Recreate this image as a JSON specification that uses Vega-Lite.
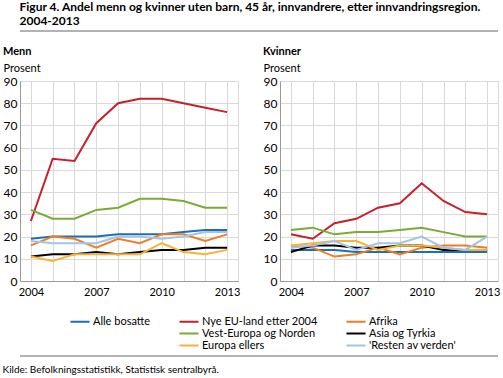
{
  "$schema": "https://vega.github.io/schema/vega-lite/v6.json",
  "padding": {"left": 2, "top": 1, "right": 2, "bottom": 0},
  "background": "white",
  "config": {
    "font": "Lato",
    "view": {"stroke": "#d9d9d9"},
    "title": {"font": "Lato", "color": "#000"}
  },
  "title": {"text": "Kilde: Befolkningsstatistikk, Statistisk sentralbyrå.", "orient": "bottom", "anchor": "start", "fontSize": 10, "fontWeight": "normal", "offset": 5},
  "datasets": {"d": [
    {"k":"Menn","r":"Alle bosatte","a":2004,"v":19},{"k":"Menn","r":"Alle bosatte","a":2005,"v":20},{"k":"Menn","r":"Alle bosatte","a":2006,"v":20},{"k":"Menn","r":"Alle bosatte","a":2007,"v":20},{"k":"Menn","r":"Alle bosatte","a":2008,"v":21},{"k":"Menn","r":"Alle bosatte","a":2009,"v":21},{"k":"Menn","r":"Alle bosatte","a":2010,"v":21},{"k":"Menn","r":"Alle bosatte","a":2011,"v":22},{"k":"Menn","r":"Alle bosatte","a":2012,"v":23},{"k":"Menn","r":"Alle bosatte","a":2013,"v":23},
    {"k":"Menn","r":"Nye EU-land etter 2004","a":2004,"v":27},{"k":"Menn","r":"Nye EU-land etter 2004","a":2005,"v":55},{"k":"Menn","r":"Nye EU-land etter 2004","a":2006,"v":54},{"k":"Menn","r":"Nye EU-land etter 2004","a":2007,"v":71},{"k":"Menn","r":"Nye EU-land etter 2004","a":2008,"v":80},{"k":"Menn","r":"Nye EU-land etter 2004","a":2009,"v":82},{"k":"Menn","r":"Nye EU-land etter 2004","a":2010,"v":82},{"k":"Menn","r":"Nye EU-land etter 2004","a":2011,"v":80},{"k":"Menn","r":"Nye EU-land etter 2004","a":2012,"v":78},{"k":"Menn","r":"Nye EU-land etter 2004","a":2013,"v":76},
    {"k":"Menn","r":"Afrika","a":2004,"v":16},{"k":"Menn","r":"Afrika","a":2005,"v":20},{"k":"Menn","r":"Afrika","a":2006,"v":19},{"k":"Menn","r":"Afrika","a":2007,"v":15},{"k":"Menn","r":"Afrika","a":2008,"v":19},{"k":"Menn","r":"Afrika","a":2009,"v":17},{"k":"Menn","r":"Afrika","a":2010,"v":21},{"k":"Menn","r":"Afrika","a":2011,"v":21},{"k":"Menn","r":"Afrika","a":2012,"v":18},{"k":"Menn","r":"Afrika","a":2013,"v":21},
    {"k":"Menn","r":"Vest-Europa og Norden","a":2004,"v":32},{"k":"Menn","r":"Vest-Europa og Norden","a":2005,"v":28},{"k":"Menn","r":"Vest-Europa og Norden","a":2006,"v":28},{"k":"Menn","r":"Vest-Europa og Norden","a":2007,"v":32},{"k":"Menn","r":"Vest-Europa og Norden","a":2008,"v":33},{"k":"Menn","r":"Vest-Europa og Norden","a":2009,"v":37},{"k":"Menn","r":"Vest-Europa og Norden","a":2010,"v":37},{"k":"Menn","r":"Vest-Europa og Norden","a":2011,"v":36},{"k":"Menn","r":"Vest-Europa og Norden","a":2012,"v":33},{"k":"Menn","r":"Vest-Europa og Norden","a":2013,"v":33},
    {"k":"Menn","r":"Asia og Tyrkia","a":2004,"v":11},{"k":"Menn","r":"Asia og Tyrkia","a":2005,"v":12},{"k":"Menn","r":"Asia og Tyrkia","a":2006,"v":12},{"k":"Menn","r":"Asia og Tyrkia","a":2007,"v":13},{"k":"Menn","r":"Asia og Tyrkia","a":2008,"v":12},{"k":"Menn","r":"Asia og Tyrkia","a":2009,"v":13},{"k":"Menn","r":"Asia og Tyrkia","a":2010,"v":14},{"k":"Menn","r":"Asia og Tyrkia","a":2011,"v":14},{"k":"Menn","r":"Asia og Tyrkia","a":2012,"v":15},{"k":"Menn","r":"Asia og Tyrkia","a":2013,"v":15},
    {"k":"Menn","r":"Europa ellers","a":2004,"v":11},{"k":"Menn","r":"Europa ellers","a":2005,"v":9},{"k":"Menn","r":"Europa ellers","a":2006,"v":12},{"k":"Menn","r":"Europa ellers","a":2007,"v":12},{"k":"Menn","r":"Europa ellers","a":2008,"v":12},{"k":"Menn","r":"Europa ellers","a":2009,"v":12},{"k":"Menn","r":"Europa ellers","a":2010,"v":17},{"k":"Menn","r":"Europa ellers","a":2011,"v":13},{"k":"Menn","r":"Europa ellers","a":2012,"v":12},{"k":"Menn","r":"Europa ellers","a":2013,"v":14},
    {"k":"Menn","r":"'Resten av verden'","a":2004,"v":18},{"k":"Menn","r":"'Resten av verden'","a":2005,"v":17},{"k":"Menn","r":"'Resten av verden'","a":2006,"v":17},{"k":"Menn","r":"'Resten av verden'","a":2007,"v":17},{"k":"Menn","r":"'Resten av verden'","a":2008,"v":20},{"k":"Menn","r":"'Resten av verden'","a":2009,"v":20},{"k":"Menn","r":"'Resten av verden'","a":2010,"v":19},{"k":"Menn","r":"'Resten av verden'","a":2011,"v":20},{"k":"Menn","r":"'Resten av verden'","a":2012,"v":22},{"k":"Menn","r":"'Resten av verden'","a":2013,"v":22},
    {"k":"Kvinner","r":"Alle bosatte","a":2004,"v":14},{"k":"Kvinner","r":"Alle bosatte","a":2005,"v":14},{"k":"Kvinner","r":"Alle bosatte","a":2006,"v":14},{"k":"Kvinner","r":"Alle bosatte","a":2007,"v":13},{"k":"Kvinner","r":"Alle bosatte","a":2008,"v":13},{"k":"Kvinner","r":"Alle bosatte","a":2009,"v":13},{"k":"Kvinner","r":"Alle bosatte","a":2010,"v":13},{"k":"Kvinner","r":"Alle bosatte","a":2011,"v":13},{"k":"Kvinner","r":"Alle bosatte","a":2012,"v":13},{"k":"Kvinner","r":"Alle bosatte","a":2013,"v":13},
    {"k":"Kvinner","r":"Nye EU-land etter 2004","a":2004,"v":21},{"k":"Kvinner","r":"Nye EU-land etter 2004","a":2005,"v":19},{"k":"Kvinner","r":"Nye EU-land etter 2004","a":2006,"v":26},{"k":"Kvinner","r":"Nye EU-land etter 2004","a":2007,"v":28},{"k":"Kvinner","r":"Nye EU-land etter 2004","a":2008,"v":33},{"k":"Kvinner","r":"Nye EU-land etter 2004","a":2009,"v":35},{"k":"Kvinner","r":"Nye EU-land etter 2004","a":2010,"v":44},{"k":"Kvinner","r":"Nye EU-land etter 2004","a":2011,"v":36},{"k":"Kvinner","r":"Nye EU-land etter 2004","a":2012,"v":31},{"k":"Kvinner","r":"Nye EU-land etter 2004","a":2013,"v":30},
    {"k":"Kvinner","r":"Afrika","a":2004,"v":16},{"k":"Kvinner","r":"Afrika","a":2005,"v":15},{"k":"Kvinner","r":"Afrika","a":2006,"v":11},{"k":"Kvinner","r":"Afrika","a":2007,"v":12},{"k":"Kvinner","r":"Afrika","a":2008,"v":15},{"k":"Kvinner","r":"Afrika","a":2009,"v":12},{"k":"Kvinner","r":"Afrika","a":2010,"v":15},{"k":"Kvinner","r":"Afrika","a":2011,"v":16},{"k":"Kvinner","r":"Afrika","a":2012,"v":16},{"k":"Kvinner","r":"Afrika","a":2013,"v":15},
    {"k":"Kvinner","r":"Vest-Europa og Norden","a":2004,"v":23},{"k":"Kvinner","r":"Vest-Europa og Norden","a":2005,"v":24},{"k":"Kvinner","r":"Vest-Europa og Norden","a":2006,"v":21},{"k":"Kvinner","r":"Vest-Europa og Norden","a":2007,"v":22},{"k":"Kvinner","r":"Vest-Europa og Norden","a":2008,"v":22},{"k":"Kvinner","r":"Vest-Europa og Norden","a":2009,"v":23},{"k":"Kvinner","r":"Vest-Europa og Norden","a":2010,"v":24},{"k":"Kvinner","r":"Vest-Europa og Norden","a":2011,"v":22},{"k":"Kvinner","r":"Vest-Europa og Norden","a":2012,"v":20},{"k":"Kvinner","r":"Vest-Europa og Norden","a":2013,"v":20},
    {"k":"Kvinner","r":"Asia og Tyrkia","a":2004,"v":13},{"k":"Kvinner","r":"Asia og Tyrkia","a":2005,"v":16},{"k":"Kvinner","r":"Asia og Tyrkia","a":2006,"v":16},{"k":"Kvinner","r":"Asia og Tyrkia","a":2007,"v":15},{"k":"Kvinner","r":"Asia og Tyrkia","a":2008,"v":15},{"k":"Kvinner","r":"Asia og Tyrkia","a":2009,"v":16},{"k":"Kvinner","r":"Asia og Tyrkia","a":2010,"v":16},{"k":"Kvinner","r":"Asia og Tyrkia","a":2011,"v":14},{"k":"Kvinner","r":"Asia og Tyrkia","a":2012,"v":14},{"k":"Kvinner","r":"Asia og Tyrkia","a":2013,"v":14},
    {"k":"Kvinner","r":"Europa ellers","a":2004,"v":16},{"k":"Kvinner","r":"Europa ellers","a":2005,"v":17},{"k":"Kvinner","r":"Europa ellers","a":2006,"v":18},{"k":"Kvinner","r":"Europa ellers","a":2007,"v":18},{"k":"Kvinner","r":"Europa ellers","a":2008,"v":14},{"k":"Kvinner","r":"Europa ellers","a":2009,"v":16},{"k":"Kvinner","r":"Europa ellers","a":2010,"v":16},{"k":"Kvinner","r":"Europa ellers","a":2011,"v":15},{"k":"Kvinner","r":"Europa ellers","a":2012,"v":14},{"k":"Kvinner","r":"Europa ellers","a":2013,"v":14},
    {"k":"Kvinner","r":"'Resten av verden'","a":2004,"v":15},{"k":"Kvinner","r":"'Resten av verden'","a":2005,"v":16},{"k":"Kvinner","r":"'Resten av verden'","a":2006,"v":18},{"k":"Kvinner","r":"'Resten av verden'","a":2007,"v":14},{"k":"Kvinner","r":"'Resten av verden'","a":2008,"v":17},{"k":"Kvinner","r":"'Resten av verden'","a":2009,"v":17},{"k":"Kvinner","r":"'Resten av verden'","a":2010,"v":20},{"k":"Kvinner","r":"'Resten av verden'","a":2011,"v":15},{"k":"Kvinner","r":"'Resten av verden'","a":2012,"v":14},{"k":"Kvinner","r":"'Resten av verden'","a":2013,"v":20}
  ]},
  "resolve": {"scale": {"color": "independent"}, "legend": {"color": "independent"}},
  "spacing": 13,
  "vconcat": [
    {
      "title": {"text": ["Figur 4. Andel menn og kvinner uten barn, 45 år, innvandrere, etter innvandringsregion.", "2004-2013"], "anchor": "start", "fontSize": 12, "fontWeight": "bold", "lineHeight": 14, "offset": 2, "frame": "bounds"},
      "data": {"values": [{"y": 0}]},
      "width": 478,
      "height": 1,
      "view": {"stroke": null},
      "mark": {"type": "rule", "color": "#666666", "strokeWidth": 1},
      "encoding": {"y": {"field": "y", "type": "quantitative", "scale": {"domain": [0, 1]}, "axis": null}}
    },
    {
      "data": {"name": "d"},
      "spacing": 21,
      "hconcat": [
        {
          "title": {"text": "Menn", "anchor": "start", "fontSize": 11, "fontWeight": "bold", "offset": 5},
          "width": 218,
          "height": 200,
          "transform": [{"filter": "datum.k == 'Menn'"}],
          "mark": {"type": "line", "strokeWidth": 2},
          "encoding": {
            "x": {"field": "a", "type": "ordinal", "scale": {"type": "point", "padding": 0.5},
              "axis": {"title": null, "labelAngle": 0, "labelExpr": "indexof(['2004','2007','2010','2013'], datum.label) >= 0 ? datum.label : ''", "grid": true, "gridColor": "#d9d9d9", "domainColor": "#999999", "ticks": false, "labelFontSize": 11, "labelColor": "#000", "labelPadding": 5}},
            "y": {"field": "v", "type": "quantitative", "scale": {"domain": [0, 90], "nice": false},
              "axis": {"title": "Prosent", "titleAngle": 0, "titleAlign": "left", "titleBaseline": "alphabetic", "titleX": -17, "titleY": -10, "titleFontWeight": "normal", "titleFontSize": 11, "titleColor": "#000", "values": [0,10,20,30,40,50,60,70,80,90], "grid": true, "gridColor": "#d9d9d9", "domainColor": "#999999", "ticks": false, "labelFontSize": 12, "labelColor": "#000", "labelPadding": 3}},
            "color": {"field": "r", "type": "nominal",
              "scale": {"domain": ["Alle bosatte", "Nye EU-land etter 2004", "Afrika", " ", "Vest-Europa og Norden", "Asia og Tyrkia", "  ", "Europa ellers", "'Resten av verden'"],
                "range": ["#1a70b8", "#c8202a", "#f07d26", "transparent", "#7aab36", "#000000", "transparent", "#f8b334", "#a4c3e8"]},
              "legend": null}
          }
        },
        {
          "title": {"text": "Kvinner", "anchor": "start", "fontSize": 11, "fontWeight": "bold", "offset": 5},
          "width": 218,
          "height": 200,
          "transform": [{"filter": "datum.k == 'Kvinner'"}],
          "mark": {"type": "line", "strokeWidth": 2},
          "encoding": {
            "x": {"field": "a", "type": "ordinal", "scale": {"type": "point", "padding": 0.5},
              "axis": {"title": null, "labelAngle": 0, "labelExpr": "indexof(['2004','2007','2010','2013'], datum.label) >= 0 ? datum.label : ''", "grid": true, "gridColor": "#d9d9d9", "domainColor": "#999999", "ticks": false, "labelFontSize": 11, "labelColor": "#000", "labelPadding": 5}},
            "y": {"field": "v", "type": "quantitative", "scale": {"domain": [0, 90], "nice": false},
              "axis": {"title": "Prosent", "titleAngle": 0, "titleAlign": "left", "titleBaseline": "alphabetic", "titleX": -17, "titleY": -10, "titleFontWeight": "normal", "titleFontSize": 11, "titleColor": "#000", "values": [0,10,20,30,40,50,60,70,80,90], "grid": true, "gridColor": "#d9d9d9", "domainColor": "#999999", "ticks": false, "labelFontSize": 12, "labelColor": "#000", "labelPadding": 3}},
            "color": {"field": "r", "type": "nominal", "legend": null}
          }
        }
      ]
    },
    {
      "width": 478,
      "height": 45,
      "view": {"stroke": null},
      "layer": [
        {
          "data": {"values": [{"y": 0}]},
          "mark": {"type": "rule", "color": "#666666", "strokeWidth": 1},
          "encoding": {"y": {"field": "y", "type": "quantitative", "scale": {"domain": [0, 1]}, "axis": null}}
        },
        {
          "data": {"values": [{"r": "Alle bosatte", "y": 0}]},
          "mark": {"type": "line", "strokeWidth": 2},
          "encoding": {
            "y": {"field": "y", "type": "quantitative"},
            "color": {"field": "r", "type": "nominal",
              "scale": {"domain": ["Alle bosatte", "Nye EU-land etter 2004", "Afrika", " ", "Vest-Europa og Norden", "Asia og Tyrkia", "  ", "Europa ellers", "'Resten av verden'"],
                "range": ["#1a70b8", "#c8202a", "#f07d26", "transparent", "#7aab36", "#000000", "transparent", "#f8b334", "#a4c3e8"]},
              "legend": {"title": null, "orient": "none", "legendX": 49, "legendY": 5, "direction": "horizontal", "columns": 3, "symbolType": "M-1,0H3.75", "symbolStrokeWidth": 2, "symbolSize": 64, "labelFontSize": 11, "labelColor": "#000", "columnPadding": 24, "rowPadding": 0, "labelOffset": 13}}
          }
        }
      ]
    }
  ]
}
